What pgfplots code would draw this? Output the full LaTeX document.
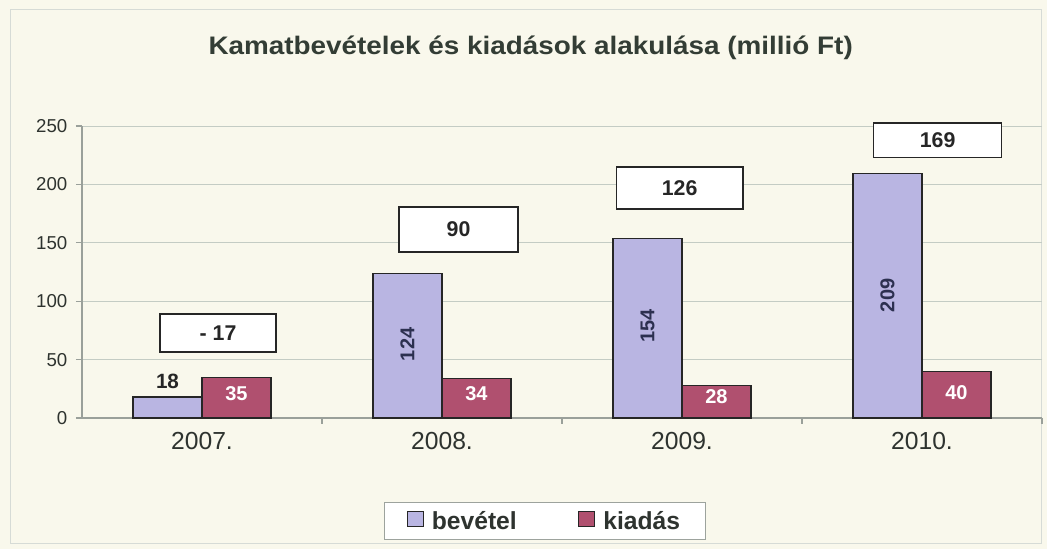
\documentclass[border=0pt]{standalone}
\usepackage{pgfplots}
\pgfplotsset{compat=1.18}
\usepackage{fontspec}
\setmainfont{Liberation Sans}
\definecolor{bgc}{HTML}{F9F8EC}
\definecolor{gridc}{HTML}{C4CCC4}
\definecolor{axisc}{HTML}{9AA09A}
\definecolor{tickc}{HTML}{2E332F}
\definecolor{titlec}{HTML}{333D35}
\definecolor{bev}{HTML}{B9B5E2}
\definecolor{kia}{HTML}{B0506F}
\definecolor{bevtxt}{HTML}{2C3050}
\begin{document}
\begin{tikzpicture}
\fill[bgc] (0,0) rectangle (785.25pt,411.75pt);
\draw[gridc!70, line width=0.5pt] (8pt,4pt) rectangle (781pt,405pt);
\node[font=\bfseries\fontsize{19}{22}\selectfont, text=titlec, xscale=1.1] at (398pt,375.5pt) {Kamatbevételek és kiadások alakulása (millió Ft)};
\begin{axis}[
  at={(61.5pt,98.25pt)}, anchor=south west,
  scale only axis, width=720pt, height=219pt,
  xmin=-0.5, xmax=3.5, ymin=0, ymax=250,
  xtick={0,1,2,3}, xticklabels={2007.,2008.,2009.,2010.},
  minor xtick={0.5,1.5,2.5,3.5},
  major x tick style={draw=none},
  minor x tick style={axisc},
  ytick={0,50,100,150,200,250},
  ymajorgrids, grid style={gridc, line width=0.6pt},
  axis x line*=bottom, axis y line*=left,
  axis line style={axisc, line width=0.8pt, -},
  tick style={axisc, line width=0.8pt},
  tick align=outside, major tick length=4.5pt, minor tick length=4.5pt,
  /pgf/number format/assume math mode=true,
  yticklabel style={font=\fontsize{14}{16}\selectfont, text=tickc, xshift=-3pt},
  xticklabel style={font=\fontsize{18.5}{21}\selectfont, text=tickc, yshift=-3pt},
  clip=false,
  legend style={at={(axis description cs:0.482,-0.353)}, anchor=center,
    draw=gridc!80!black, fill=white, line width=0.6pt,
    legend columns=2, column sep=4pt, inner xsep=17pt, inner ysep=4.5pt,
    /tikz/every even column/.append style={column sep=44pt},
    font=\bfseries\fontsize{18.5}{21}\selectfont, text=tickc,
    nodes={inner xsep=2pt}},
  legend cell align=left,
]
\addlegendimage{legend image code/.code={\draw[fill=bev, draw=black!85, line width=0.9pt] (0pt,-4pt) rectangle (12pt,7pt);}}
\addlegendentry{bevétel}
\addlegendimage{legend image code/.code={\draw[fill=kia, draw=black!85, line width=0.9pt] (0pt,-4pt) rectangle (12pt,7pt);}}
\addlegendentry{kiadás}
\addplot[ybar, forget plot, bar width=0.2875, bar shift=-0.14375, fill=bev, draw=black!85, line width=0.9pt]
  coordinates {(0,18) (1,124) (2,154) (3,209)};
\addplot[ybar, forget plot, bar width=0.2875, bar shift=0.14375, fill=kia, draw=black!85, line width=0.9pt]
  coordinates {(0,35) (1,34) (2,28) (3,40)};
% bevetel labels (rotated, inside)
\addplot[draw=none, mark=none, forget plot, point meta=explicit symbolic,
  nodes near coords, nodes near coords style={anchor=center, rotate=90, text=bevtxt,
  font=\bfseries\fontsize{15}{16}\selectfont}]
  coordinates {(0.85625,63)[124] (1.85625,79)[154] (2.85625,105)[209]};
% 18 label above bar
\addplot[draw=none, mark=none, forget plot, point meta=explicit symbolic,
  nodes near coords, nodes near coords style={anchor=center, text=black!85,
  font=\bfseries\fontsize{15.5}{16}\selectfont}]
  coordinates {(-0.14375,31.5)[18]};
% kiadas labels (white)
\addplot[draw=none, mark=none, forget plot, point meta=explicit symbolic,
  nodes near coords, nodes near coords style={anchor=center, text=white,
  font=\bfseries\fontsize{15}{16}\selectfont}]
  coordinates {(0.14375,20.5)[35] (1.14375,21)[34] (2.14375,18)[28] (3.14375,21.5)[40]};
% difference boxes
\addplot[draw=none, mark=none, forget plot, point meta=explicit symbolic,
  nodes near coords, nodes near coords style={anchor=center, draw=black!85, fill=white,
  line width=1.1pt, minimum width=87pt, minimum height=28.5pt, text=black!85,
  font=\bfseries\fontsize{16}{17}\selectfont}]
  coordinates {(0.0667,72.8)[- 17]};
\addplot[draw=none, mark=none, forget plot, point meta=explicit symbolic,
  nodes near coords, nodes near coords style={anchor=center, draw=black!85, fill=white,
  line width=1.1pt, minimum width=89pt, minimum height=33.5pt, text=black!85,
  font=\bfseries\fontsize{16}{17}\selectfont}]
  coordinates {(1.069,161.4)[90]};
\addplot[draw=none, mark=none, forget plot, point meta=explicit symbolic,
  nodes near coords, nodes near coords style={anchor=center, draw=black!85, fill=white,
  line width=1.1pt, minimum width=95pt, minimum height=31.5pt, text=black!85,
  font=\bfseries\fontsize{16}{17}\selectfont}]
  coordinates {(1.990,196.9)[126]};
\addplot[draw=none, mark=none, forget plot, point meta=explicit symbolic,
  nodes near coords, nodes near coords style={anchor=center, draw=black!85, fill=white,
  line width=1.1pt, minimum width=96pt, minimum height=26pt, text=black!85,
  font=\bfseries\fontsize{16}{17}\selectfont}]
  coordinates {(3.065,237.8)[169]};
\end{axis}
\end{tikzpicture}
\end{document}
